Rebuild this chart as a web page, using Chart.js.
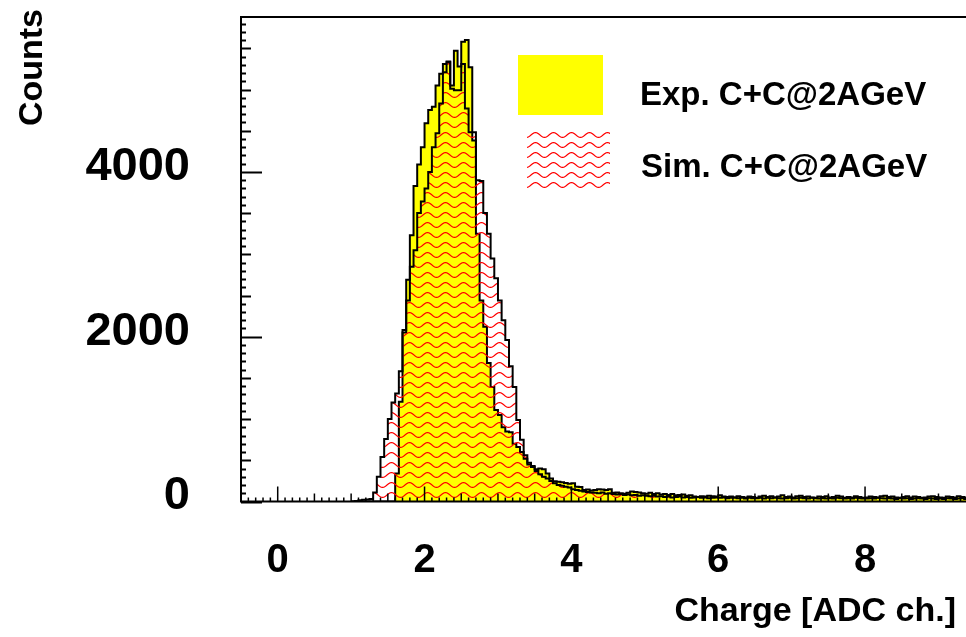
<!DOCTYPE html>
<html>
<head>
<meta charset="utf-8">
<title>Charge spectrum C+C@2AGeV</title>
<script src="https://cdn.jsdelivr.net/npm/chart.js@4.4.1/dist/chart.umd.min.js"></script>
<style>
  html, body { margin: 0; padding: 0; background: #fff; }
  #wrap { width: 966px; height: 637px; position: relative; }
</style>
</head>
<body>
<div id="wrap"><canvas id="chargeChart"></canvas></div>
<script>
// Histogram binning: lower edge of first bin and bin width (ADC ch.)
const binStart = 1.0;
const binWidth = 0.05;

// Exp. C+C@2AGeV - counts per bin, bins 1.00 ... 9.45 (10 bins per row)
const expCounts = [
    0, 0, 0, 0, 0, 0, 0, 0, 0, 0,
    0, 0, 340, 1210, 2050, 2690, 3230, 3830, 4090, 4300,
    4590, 4750, 4790, 5050, 5190, 5310, 5340, 5050, 5470, 5280,
    5580, 5600, 5270, 4380, 3250, 2440, 2120, 1680, 1390, 1110,
    1050, 900, 850, 840, 700, 660, 600, 520, 450, 430,
    390, 400, 390, 340, 280, 245, 240, 235, 225, 215,
    220, 180, 175, 140, 145, 135, 140, 150, 145, 140,
    150, 105, 110, 100, 95, 105, 120, 115, 110, 100,
    95, 105, 90, 100, 85, 90, 80, 90, 75, 80,
    85, 70, 75, 60, 55, 65, 60, 70, 65, 60,
    75, 60, 55, 60, 50, 65, 55, 50, 60, 55,
    45, 60, 70, 55, 65, 50, 60, 75, 55, 60,
    50, 65, 70, 55, 60, 50, 45, 60, 55, 65,
    50, 55, 70, 60, 45, 55, 50, 65, 55, 45,
    50, 60, 55, 50, 65, 70, 55, 60, 50, 45,
    55, 65, 50, 60, 55, 45, 50, 60, 65, 55,
    50, 45, 60, 55, 50, 65, 55, 50, 60, 55
];

// Sim. C+C@2AGeV - counts per bin, same binning
const simCounts = [
    0, 5, 15, 20, 25, 30, 110, 300, 540, 760,
    1000, 1200, 1310, 1580, 2080, 2440, 2850, 3050, 3500, 3640,
    3800, 4000, 4300, 4470, 4830, 5210, 5330, 5010, 4990, 4990,
    5310, 4770, 4480, 4480, 3900, 3890, 3500, 3250, 2950, 2710,
    2440, 2200, 1960, 1640, 1390, 990, 750, 560, 470, 420,
    370, 330, 300, 280, 250, 220, 200, 190, 180, 170,
    150, 140, 130, 120, 115, 110, 105, 100, 110, 95,
    100, 90, 85, 90, 80, 85, 75, 80, 70, 75,
    70, 65, 70, 60, 65, 55, 60, 50, 55, 60,
    50, 55, 45, 50, 55, 45, 50, 40, 45, 50,
    45, 50, 40, 45, 50, 40, 45, 35, 45, 40,
    40, 45, 35, 45, 40, 50, 40, 35, 40, 45,
    35, 40, 45, 40, 35, 45, 40, 35, 40, 35,
    40, 35, 45, 40, 35, 40, 35, 45, 40, 35,
    35, 40, 35, 45, 40, 35, 40, 35, 30, 40,
    35, 40, 30, 35, 40, 35, 30, 40, 35, 30,
    35, 30, 40, 35, 30, 35, 40, 30, 35, 30
];

const xTickValues = [0, 2, 4, 6, 8];
const yTickValues = [0, 2000, 4000];
const xRange = [-0.5, 9.375];
const yRange = [0, 5880];

const seriesLabels = ["Exp. C+C@2AGeV", "Sim. C+C@2AGeV"];
const xTitle = "Charge [ADC ch.]";
const yTitle = "Counts";

const FONT = "'Liberation Sans', Arial, Helvetica, sans-serif";

// histogram -> step points at the bin edges, closed back to zero
function toSteps(counts) {
    const pts = counts.map((c, i) => ({ x: Math.round((binStart + i * binWidth) * 100) / 100, y: c }));
    pts.push({ x: Math.round((binStart + counts.length * binWidth) * 100) / 100, y: 0 });
    return pts;
}

// red wavy hatch, like the ROOT fill style of the simulation
function makeWavePattern(ctx) {
    const tile = document.createElement("canvas");
    tile.width = 18;
    tile.height = 10;
    const t = tile.getContext("2d");
    t.strokeStyle = "#ff0000";
    t.lineWidth = 1.2;
    t.beginPath();
    for (let px = -1; px <= 19; px += 0.5) {
        const py = 5 + 2.4 * Math.sin((2 * Math.PI * px) / 18);
        if (px === -1) t.moveTo(px, py); else t.lineTo(px, py);
    }
    t.stroke();
    return ctx.createPattern(tile, "repeat");
}

// ROOT look: frame, inward ticks, axis titles and the legend inside the pad
const rootFrame = {
    id: "rootFrame",
    afterDraw(chart) {
        const { ctx, chartArea: a, scales: { x, y } } = chart;
        ctx.save();
        ctx.strokeStyle = "#000";
        ctx.lineWidth = 2;
        ctx.beginPath();
        ctx.moveTo(a.right + 2, a.top);
        ctx.lineTo(a.left, a.top);
        ctx.lineTo(a.left, a.bottom);
        ctx.lineTo(a.right + 2, a.bottom);
        ctx.stroke();

        // y ticks: 2000 / 500 / 100
        ctx.beginPath();
        for (let v = 0; v <= yRange[1]; v += 100) {
            const len = v % 2000 === 0 ? 21 : (v % 500 === 0 ? 10 : 5);
            const py = Math.round(y.getPixelForValue(v)) + 0.5;
            ctx.moveTo(a.left, py);
            ctx.lineTo(a.left + len, py);
        }
        ctx.stroke();

        // x ticks: 2 / 0.5 / 0.1
        ctx.lineWidth = 1.5;
        ctx.beginPath();
        for (let k = -5; k / 10 <= xRange[1]; k++) {
            const len = k % 20 === 0 ? 15 : (k % 5 === 0 ? 8 : 4);
            const px = x.getPixelForValue(k / 10);
            ctx.moveTo(px, a.bottom);
            ctx.lineTo(px, a.bottom - len);
        }
        ctx.stroke();

        // axis titles
        ctx.fillStyle = "#000";
        ctx.font = "bold 34px " + FONT;
        ctx.textAlign = "right";
        ctx.textBaseline = "alphabetic";
        ctx.fillText(xTitle, 956, 621);

        ctx.save();
        ctx.translate(41.5, 9);
        ctx.rotate(-Math.PI / 2);
        ctx.fillText(yTitle, 0, 0);
        ctx.restore();

        // legend
        const ds = chart.data.datasets;
        ctx.fillStyle = ds[1].backgroundColor;
        ctx.fillRect(518, 55, 85, 60);
        ctx.fillStyle = ds[0].backgroundColor;
        ctx.fillRect(527, 130, 83, 60);

        ctx.fillStyle = "#000";
        ctx.font = "bold 33px " + FONT;
        ctx.textAlign = "left";
        ctx.fillText(seriesLabels[0], 640, 105);
        ctx.fillText(seriesLabels[1], 641, 177);
        ctx.restore();
    }
};

document.addEventListener("DOMContentLoaded", () => {
    const canvas = document.getElementById("chargeChart");
    const wave = makeWavePattern(canvas.getContext("2d"));

    new Chart(canvas, {
        type: "line",
        data: {
            datasets: [
                {
                    label: seriesLabels[1],
                    data: toSteps(simCounts),
                    stepped: true,
                    fill: "origin",
                    backgroundColor: wave,
                    borderColor: "#000",
                    borderWidth: 2,
                    pointRadius: 0,
                    order: 0
                },
                {
                    label: seriesLabels[0],
                    data: toSteps(expCounts),
                    stepped: true,
                    fill: "origin",
                    backgroundColor: "#ffff00",
                    borderColor: "#000",
                    borderWidth: 2,
                    pointRadius: 0,
                    order: 1
                }
            ]
        },
        options: {
            responsive: true,
            maintainAspectRatio: false,
            animation: false,
            events: [],
            layout: { padding: { top: 17, right: 0, bottom: 0, left: 0 } },
            plugins: {
                legend: { display: false },
                tooltip: { enabled: false },
                title: { display: false }
            },
            scales: {
                x: {
                    type: "linear",
                    min: xRange[0],
                    max: xRange[1],
                    grid: { display: false, drawTicks: false },
                    border: { display: false },
                    afterBuildTicks: (s) => { s.ticks = xTickValues.map(v => ({ value: v })); },
                    afterFit: (s) => {
                        s.height = 135.5;
                        s.paddingLeft = 0; s.paddingRight = 0;
                        s.paddingTop = 0; s.paddingBottom = 0;
                    },
                    ticks: {
                        autoSkip: false,
                        maxRotation: 0,
                        padding: 35,
                        color: "#000",
                        font: { family: FONT, size: 40, weight: "bold" },
                        callback: (v) => String(v)
                    }
                },
                y: {
                    min: yRange[0],
                    max: yRange[1],
                    grid: { display: false, drawTicks: false },
                    border: { display: false },
                    afterBuildTicks: (s) => { s.ticks = yTickValues.map(v => ({ value: v })); },
                    afterFit: (s) => {
                        s.width = 241;
                        s.paddingLeft = 0; s.paddingRight = 0;
                        s.paddingTop = 0; s.paddingBottom = 0;
                    },
                    ticks: {
                        padding: 51,
                        labelOffset: -5,
                        color: "#000",
                        font: { family: FONT, size: 47, weight: "bold" },
                        callback: (v) => String(v)
                    }
                }
            }
        },
        plugins: [rootFrame]
    });
});
</script>
</body>
</html>
